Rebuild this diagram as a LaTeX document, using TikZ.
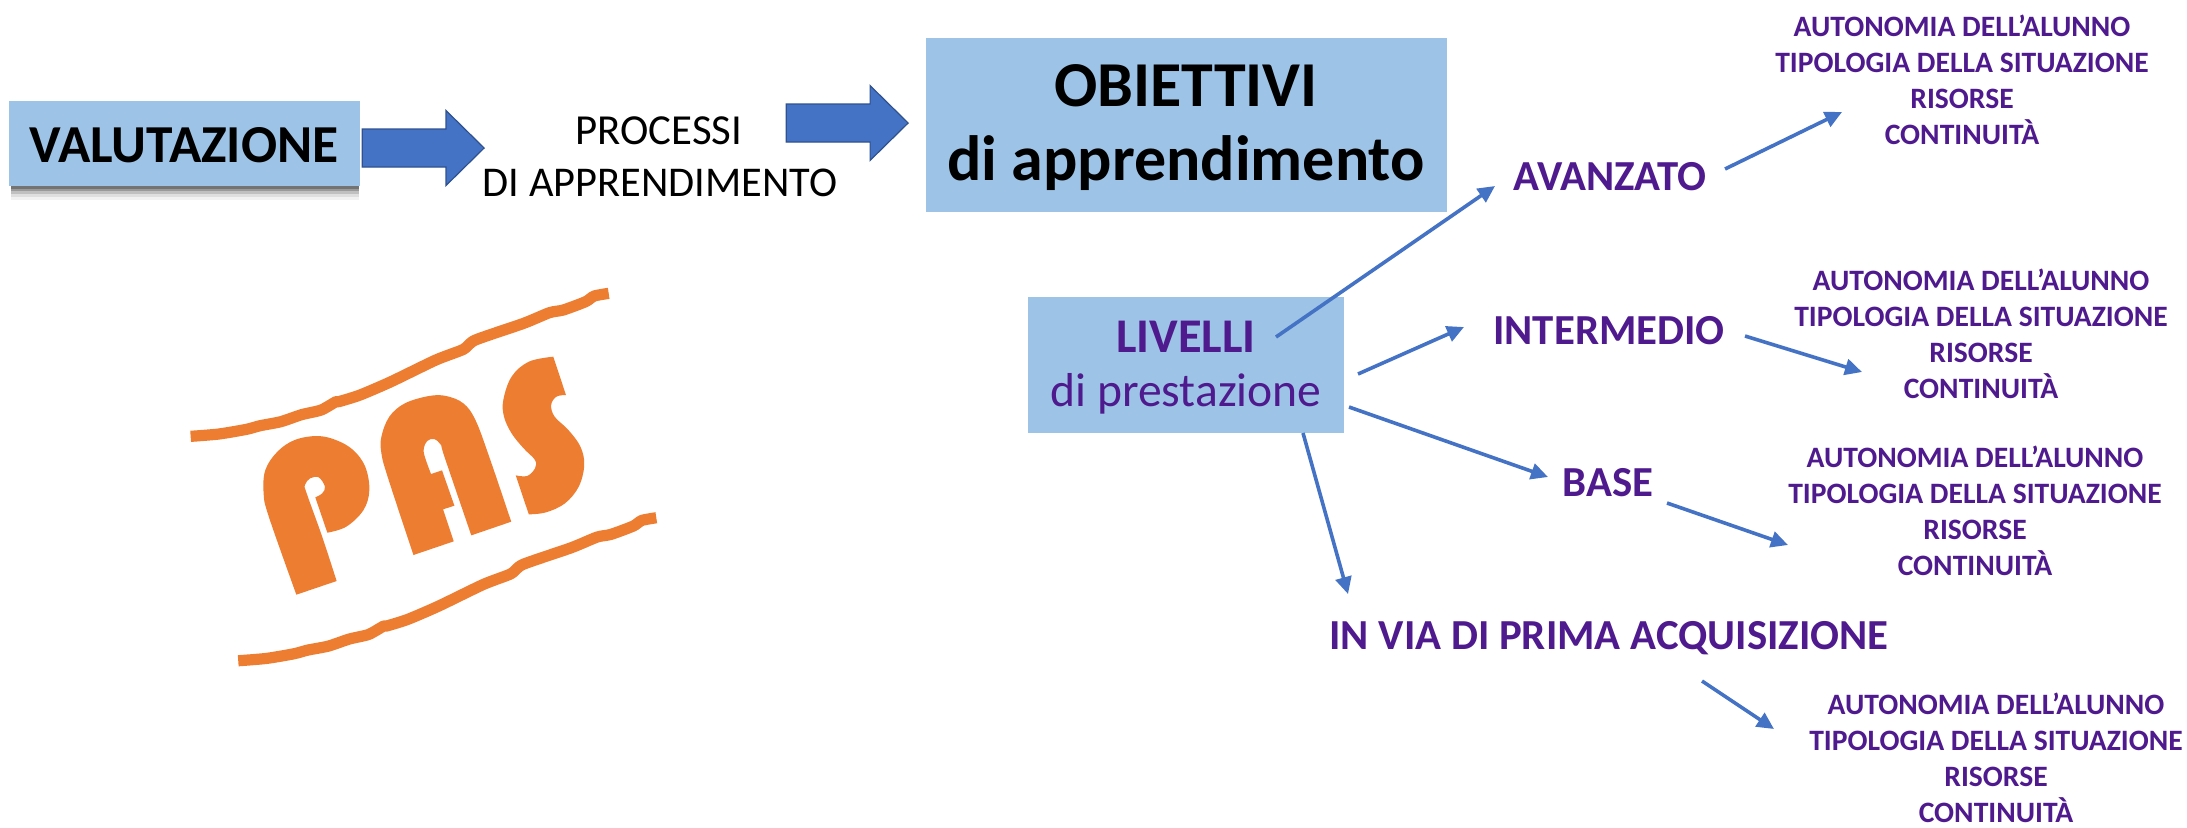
\documentclass[tikz,border=0pt]{standalone}
\usepackage{fontspec}
\setmainfont{Carlito}
\usetikzlibrary{arrows.meta,calc,shapes.arrows}
\definecolor{boxblue}{HTML}{9DC3E6}
\definecolor{arrowblue}{HTML}{4472C4}
\definecolor{arrowedge}{HTML}{2F528F}
\definecolor{purp}{HTML}{4F1A8E}
\definecolor{orng}{HTML}{ED7D31}
\tikzset{
  boxnode/.style={fill=boxblue,inner sep=0pt,minimum width=#1},
  bigarrow/.style={single arrow,fill=arrowblue,draw=arrowedge,line width=0.6pt,inner xsep=0pt,inner ysep=9.2pt,
    minimum height=61pt,single arrow head extend=9.2pt,single arrow tip angle=89,anchor=tip},
  conn/.style={draw=arrowblue,line width=1.8pt,-{Triangle[length=8.5pt,width=8pt]}},
  lvl/.style={text=purp,font=\fontsize{21.4}{26}\selectfont\bfseries,inner sep=0pt},
  lst/.style={text=purp,font=\fontsize{14.8}{18}\selectfont\bfseries,align=center,inner sep=0pt},
  wave/.style={draw=orng,line width=5.6pt,line cap=butt,line join=round}
}
\begin{document}
\begin{tikzpicture}[x=0.5pt,y=-0.5pt]
\useasboundingbox (0,0) rectangle (2187,827);
% shadow layers
\foreach \o/\op in {14/0.05,11/0.08,8/0.14,5/0.2,3/0.25}{
  \fill[black,opacity=\op] (11,103+\o) rectangle (359,186+\o);
}
\node[boxnode=175.5pt,minimum height=42.5pt] (val) at (184.5,143.5) {};
\node[font=\fontsize{26.7}{30}\selectfont\bfseries] (valt) at (184,145) {VALUTAZIONE};
\node[bigarrow] (ar1) at (485,148) {};
\node[bigarrow] (ar2) at (909,123) {};
\node[font=\fontsize{21.4}{25}\selectfont,inner sep=0pt] (pr) at (659,131) {PROCESSI};
\node[font=\fontsize{21.2}{25}\selectfont,inner sep=0pt] (da) at (660,183) {DI APPRENDIMENTO};
\node[boxnode=260.5pt,minimum height=87pt] (ob) at (1186.5,125) {};
\node[font=\fontsize{32}{36}\selectfont\bfseries,inner sep=0pt] (obt) at (1186,86) {OBIETTIVI};
\node[font=\fontsize{32}{36}\selectfont\bfseries,inner sep=0pt] (obs) at (1186,163) {di apprendimento};
\node[boxnode=158pt,minimum height=68pt] (liv) at (1186,365) {};
\node[font=\fontsize{24.2}{28}\selectfont\bfseries,text=purp,inner sep=0pt] (livt) at (1186,337) {LIVELLI};
\node[font=\fontsize{23.8}{28}\selectfont,text=purp,inner sep=0pt] (livs) at (1186,394) {di prestazione};
\node[lvl] (avan) at (1610,177) {AVANZATO};
\node[lvl] (inter) at (1609,331) {INTERMEDIO};
\node[lvl] (bas) at (1608,483) {BASE};
\node[lvl] (acq) at (1609,638) {IN VIA DI PRIMA ACQUISIZIONE};
\node[lst] (l1) at (1962,80) {AUTONOMIA DELL’ALUNNO\\TIPOLOGIA DELLA SITUAZIONE\\RISORSE\\CONTINUITÀ};
\node[lst] (l2) at (1981,334) {AUTONOMIA DELL’ALUNNO\\TIPOLOGIA DELLA SITUAZIONE\\RISORSE\\CONTINUITÀ};
\node[lst] (l3) at (1975,511) {AUTONOMIA DELL’ALUNNO\\TIPOLOGIA DELLA SITUAZIONE\\RISORSE\\CONTINUITÀ};
\node[lst] (l4) at (1996,758) {AUTONOMIA DELL’ALUNNO\\TIPOLOGIA DELLA SITUAZIONE\\RISORSE\\CONTINUITÀ};
\draw[conn] ($(liv.center)+(90,-28)$) -- ($(avan.center)+(-115,9)$);
\draw[conn] ($(liv.center)+(172,9)$) -- ($(inter.center)+(-145,-4)$);
\draw[conn] ($(liv.center)+(163,42)$) -- ($(bas.center)+(-60,-6)$);
\draw[conn] ($(liv.center)+(117,68)$) -- ($(acq.center)+(-261,-44)$);
\draw[conn] ($(avan.center)+(115,-8)$) -- ($(l1.center)+(-120,32)$);
\draw[conn] ($(inter.center)+(136,5)$) -- ($(l2.center)+(-119,38)$);
\draw[conn] ($(bas.center)+(59,20)$) -- ($(l3.center)+(-187,34)$);
\draw[conn] ($(acq.center)+(93,43)$) -- ($(l4.center)+(-222,-29)$);
% PAS logo, in crop coordinates
\begin{scope}[xshift=75pt,yshift=-130pt,x=0.17218pt,y=-0.16667pt]
\def\wavepts{(118,529) (200,522) (280,508) (320,497) (380,485) (440,464) (497,450) (540,425) (548,425) (610,405) (700,365) (830,300) (910,268) (945,240) (1085,190) (1160,158) (1200,150) (1265,125) (1290,108) (1332,100)}
\draw[wave] plot[smooth,tension=0.4] coordinates {\wavepts};
\begin{scope}[xshift=23.8pt,yshift=-112.2pt]
\draw[wave] plot[smooth,tension=0.4] coordinates {\wavepts};
\end{scope}
\fill[orng] (425,1004) -- (542,963) -- plot[smooth,tension=0.6] coordinates {(542,963) (500,830) (455,700) (450,675) (465,655) (490,652) (508,680) (500,700) (480,712)} -- (515,818) -- plot[smooth,tension=0.6] coordinates {(515,818) (570,800) (620,750) (637,690) (625,620) (590,570) (540,540) (485,528) (420,540) (370,575) (335,630) (330,700) (345,770) (425,1004)} -- cycle;
\fill[orng] (765,885) -- (882,844) -- (851,748) -- (884,737) -- (848,631) -- (816,642) -- plot[smooth,tension=0.6] coordinates {(816,642) (798,590) (795,565) (805,543) (825,537) (845,555) (855,590) (933,826)} -- (1049,785) -- plot[smooth,tension=0.6] coordinates {(1049,785) (985,590) (945,480) (910,430) (860,408) (810,408) (740,430) (695,470) (672,530) (672,580) (690,650) (765,885)} -- cycle;
\fill[orng] (1171,290) -- (1208,405) -- plot[smooth,tension=0.6] coordinates {(1208,405) (1180,410) (1165,435) (1175,470) (1215,510) (1250,560) (1261,615) (1245,680) (1205,730) (1150,757) (1100,763)} -- (1062,646) -- plot[smooth,tension=0.6] coordinates {(1062,646) (1095,648) (1118,625) (1118,600) (1085,565) (1050,520) (1028,470) (1026,420) (1050,350) (1100,305) (1171,290)} -- cycle;
\end{scope}
\end{tikzpicture}
\end{document}
